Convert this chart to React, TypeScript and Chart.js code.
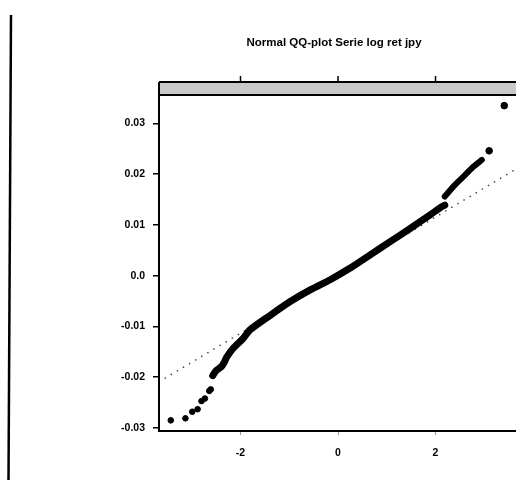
import React, { useEffect, useRef } from "react";
import { Chart, registerables } from "chart.js";

Chart.register(...registerables);

// ---- data ----
const titleText = "Normal QQ-plot Serie log ret jpy";

const xTickValues = [-2, 0, 2];
const xTickLabels = ["-2", "0", "2"];
const yTickValues = [-0.03, -0.02, -0.01, 0, 0.01, 0.02, 0.03];
const yTickLabels = ["-0.03", "-0.02", "-0.01", "0.0", "0.01", "0.02", "0.03"];

// dense body of the sample (theoretical quantile, sample quantile)
const bodyX = [-2.57, -2.5, -2.39, -2.33, -2.28, -2.15, -1.94, -1.81, -1.39, -0.98, -0.57, -0.16, 0.25, 0.66, 1.07, 1.48, 1.89, 2.13, 2.19];
const bodyY = [-0.0197, -0.0187, -0.0179, -0.017, -0.016, -0.0143, -0.0123, -0.0107, -0.0078, -0.0051, -0.0028, -0.0008, 0.0015, 0.0041, 0.0067, 0.0093, 0.012, 0.0136, 0.0139];

// upper shifted segment
const upperX = [2.19, 2.37, 2.57, 2.78, 2.95];
const upperY = [0.0156, 0.0176, 0.0195, 0.0215, 0.0228];

// isolated tail points
const lowTailX = [-3.43, -3.13, -2.99, -2.88, -2.8, -2.73, -2.64, -2.61];
const lowTailY = [-0.0285, -0.0281, -0.0268, -0.0263, -0.0247, -0.0242, -0.0227, -0.0224];
const highTailX = [3.1, 3.41];
const highTailY = [0.0246, 0.0335];

// reference (qq) line end points
const refX = [-3.67, 3.65];
const refY = [-0.0209, 0.021];

const X_MIN = -3.672;
const X_MAX = 3.651;
const Y_MIN = -0.0306;
const Y_MAX = 0.0356;

const zip = (xs: number[], ys: number[]) => xs.map((x, i) => ({ x, y: ys[i] }));

const decorPlugin = {
  id: "decor",
  afterDraw(chart: any) {
    const ctx = chart.ctx;
    const { left, right, top, bottom } = chart.chartArea;
    const xs = chart.scales.x;
    ctx.save();
    // title
    ctx.fillStyle = "#000";
    ctx.font = "bold 11.5px 'Liberation Sans', Arial, sans-serif";
    ctx.textAlign = "center";
    ctx.textBaseline = "middle";
    ctx.fillText(titleText, 334, 43);
    // strip
    const stripTop = 82;
    ctx.fillStyle = "#c9c9c9";
    ctx.fillRect(left, stripTop, right - left + 5, top - stripTop);
    ctx.strokeStyle = "#000";
    ctx.lineWidth = 2;
    ctx.beginPath();
    ctx.moveTo(left, stripTop);
    ctx.lineTo(right + 5, stripTop);
    ctx.moveTo(left, top);
    ctx.lineTo(right + 5, top);
    ctx.moveTo(left, stripTop);
    ctx.lineTo(left, bottom);
    ctx.moveTo(left, bottom);
    ctx.lineTo(right + 5, bottom);
    ctx.stroke();
    // top ticks
    ctx.lineWidth = 1.5;
    ctx.beginPath();
    xTickValues.forEach((v) => {
      const px = xs.getPixelForValue(v);
      ctx.moveTo(px, stripTop - 6);
      ctx.lineTo(px, stripTop);
    });
    ctx.stroke();
    // page left rule
    ctx.lineWidth = 2.5;
    ctx.beginPath();
    ctx.moveTo(11, 15);
    ctx.lineTo(8.5, 480);
    ctx.stroke();
    ctx.restore();
  },
};

export default function App() {
  const ref = useRef<HTMLCanvasElement | null>(null);
  useEffect(() => {
    if (!ref.current) return;
    const chart = new Chart(ref.current, {
      type: "scatter",
      data: {
        datasets: [
          {
            label: "ref",
            data: zip(refX, refY),
            showLine: true,
            borderColor: "#444",
            borderWidth: 1.6,
            borderDash: [0.1, 7],
            borderCapStyle: "round",
            pointRadius: 0,
            order: 5,
          } as any,
          {
            label: "body",
            data: zip(bodyX, bodyY),
            showLine: true,
            borderColor: "#000",
            borderWidth: 7,
            borderCapStyle: "round",
            borderJoinStyle: "round",
            tension: 0.25,
            pointRadius: 0,
          } as any,
          {
            label: "upper",
            data: zip(upperX, upperY),
            showLine: true,
            borderColor: "#000",
            borderWidth: 6,
            borderCapStyle: "round",
            borderJoinStyle: "round",
            tension: 0.2,
            pointRadius: 0,
          } as any,
          {
            label: "low",
            data: zip(lowTailX, lowTailY),
            pointRadius: 2.8,
            pointBackgroundColor: "#000",
            pointBorderColor: "#000",
            pointBorderWidth: 1,
          },
          {
            label: "high",
            data: zip(highTailX, highTailY),
            pointRadius: 3.3,
            pointBackgroundColor: "#000",
            pointBorderColor: "#000",
            pointBorderWidth: 1,
          },
        ],
      },
      options: {
        animation: false,
        responsive: false,
        maintainAspectRatio: false,
        layout: { padding: { top: 95, left: 0, right: 0, bottom: 0 }, autoPadding: false },
        plugins: { legend: { display: false }, tooltip: { enabled: false }, title: { display: false } },
        scales: {
          x: {
            type: "linear",
            min: X_MIN,
            max: X_MAX,
            afterFit(s: any) {
              s.height = 50;
              s.paddingLeft = 0;
              s.paddingRight = 0;
            },
            afterBuildTicks(s: any) {
              s.ticks = xTickValues.map((v) => ({ value: v }));
            },
            ticks: {
              callback: (v: any) => {
                const i = xTickValues.indexOf(Number(v));
                return i >= 0 ? xTickLabels[i] : "";
              },
              color: "#000",
              font: { family: "'Liberation Sans', Arial, sans-serif", size: 10.5, weight: "bold" },
              padding: 12,
              maxRotation: 0,
            },
            grid: { display: true, drawOnChartArea: false, drawTicks: true, tickLength: 4, color: "#999", lineWidth: 1 },
            border: { display: true, color: "#000", width: 2 },
          },
          y: {
            type: "linear",
            min: Y_MIN,
            max: Y_MAX,
            afterFit(s: any) {
              s.width = 159;
              s.paddingTop = 0;
              s.paddingBottom = 0;
            },
            afterBuildTicks(s: any) {
              s.ticks = yTickValues.map((v) => ({ value: v }));
            },
            ticks: {
              callback: (v: any) => {
                const i = yTickValues.findIndex((t) => Math.abs(t - Number(v)) < 1e-9);
                return i >= 0 ? yTickLabels[i] : "";
              },
              color: "#000",
              font: { family: "'Liberation Sans', Arial, sans-serif", size: 10.5, weight: "bold" },
              padding: 8,
            },
            grid: { display: true, drawOnChartArea: false, drawTicks: true, tickLength: 6, color: "#000", lineWidth: 1.5 },
            border: { display: true, color: "#000", width: 2 },
          },
        },
      } as any,
      plugins: [decorPlugin],
    });
    return () => chart.destroy();
  }, []);
  return (
    <div style={{ position: "absolute", left: 0, top: 0, width: 516, height: 481, background: "#fff" }}>
      <canvas ref={ref} width={516} height={481} style={{ display: "block" }} />
    </div>
  );
}
